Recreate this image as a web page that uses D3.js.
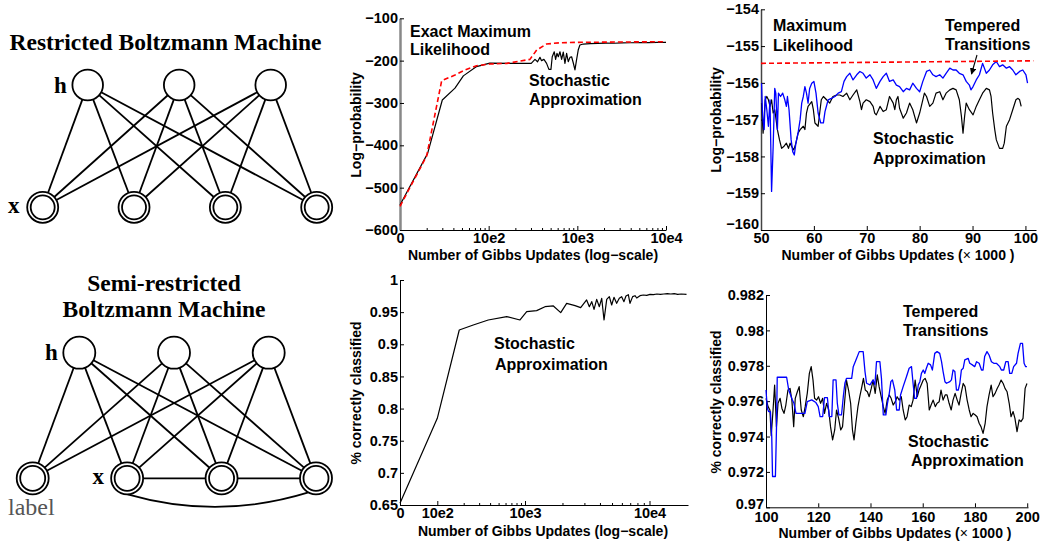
<!DOCTYPE html>
<html><head><meta charset="utf-8">
<script src="https://cdn.jsdelivr.net/npm/d3@7/dist/d3.min.js"></script>
<style>
html,body{margin:0;padding:0;background:#fff;}
svg{display:block;}
</style></head>
<body>
<svg id="fig" width="1041" height="543"></svg>
<script>
// ================= DATA =================
// --- Top-middle: log-probability vs Gibbs updates (log-scale) ---
const tmXTicks = [10, 100, 1000, 10000];
const tmXLabels = ["0", "10e2", "10e3", "10e4"];
const tmXMinor = [20,30,40,50,60,70,80,90,200,300,400,500,600,700,800,900,2000,3000,4000,5000,6000,7000,8000,9000];
const tmYTicks = [-600, -500, -400, -300, -200, -100];
const tmYLabels = ["\u2212600", "\u2212500", "\u2212400", "\u2212300", "\u2212200", "\u2212100"];
const tmMLx = [10, 20, 29.5, 41.7, 54, 73, 103, 160, 292, 348, 450, 637, 1000, 3000, 10000];
const tmMLy = [-544, -425, -247.5, -234, -222, -212, -208, -206.4, -197, -175, -160.8, -157.7, -156.8, -156, -155.3];
const tmSAx = [10, 20.5, 30, 41.7, 51.8, 73, 103, 200, 302, 333, 356, 379, 395, 420, 450, 478, 504, 521, 549, 569, 589, 610, 637, 665, 694, 725, 757, 790, 826, 862, 899, 940, 982, 1023, 1069, 1166, 1400, 1700, 2100, 2600, 3200, 4000, 5000, 6300, 8000, 10000];
const tmSAy = [-541, -419, -293, -265, -236, -214, -206, -206.5, -206.4, -197, -202.6, -192.3, -200, -197, -206.4, -220.6, -220.6, -190.8, -179, -197, -182.7, -190.8, -179, -197, -179.7, -206.4, -182.7, -202.6, -192.3, -190.8, -205, -222, -197, -175, -163, -160.8, -159.8, -159.2, -158.6, -158.9, -158.1, -157.8, -157.5, -157.6, -157, -156.8];

// --- Top-right: log-probability vs Gibbs updates (x1000) ---
const trXTicks = [50, 60, 70, 80, 90, 100];
const trXLabels = ["50", "60", "70", "80", "90", "100"];
const trYTicks = [-160, -159, -158, -157, -156, -155, -154];
const trYLabels = ["\u2212160", "\u2212159", "\u2212158", "\u2212157", "\u2212156", "\u2212155", "\u2212154"];
const trMLx = [50, 101.5];
const trMLy = [-155.47, -155.40];
const trTTx = [50.1,50.3,50.6,50.8,51.1,51.4,51.7,52.0,52.3,52.6,52.8,53.1,53.3,53.7,54.1,54.5,54.8,55.0,55.3,55.7,56.0,56.3,56.6,57.0,57.4,57.7,58.0,58.3,58.6,58.9,59.2,59.6,60.0,60.4,60.8,61.3,61.8,62.1,62.7,63.3,64.0,64.6,65.2,65.7,66.2,66.8,67.4,68.1,68.7,69.3,69.9,70.6,71.2,71.8,72.5,73.1,73.7,74.3,75.0,75.6,76.2,76.9,77.5,78.1,78.7,79.4,80.0,80.6,81.3,81.9,82.5,83.1,83.8,84.4,85.0,85.7,86.3,86.9,87.5,88.2,88.8,89.4,89.7,90.1,90.7,91.3,91.9,92.6,93.2,93.8,94.5,95.1,95.7,96.4,97.0,97.6,98.2,98.9,99.5,100.1,100.4];
const trTTy = [-156.01,-156.91,-157.27,-156.37,-156.73,-157.18,-156.46,-158.95,-157.73,-156.15,-156.28,-157.27,-156.28,-156.37,-156.28,-156.46,-156.64,-156.37,-156.73,-157.55,-157.87,-157.96,-157.64,-157.37,-157.00,-156.55,-156.37,-156.10,-156.28,-156.55,-156.15,-156.01,-155.96,-156.28,-156.82,-157.09,-157.09,-156.78,-156.46,-156.42,-156.37,-156.28,-156.24,-155.96,-155.83,-155.74,-155.92,-155.78,-155.69,-155.74,-155.87,-155.78,-155.92,-156.15,-155.96,-155.83,-155.74,-155.96,-155.92,-156.06,-156.10,-156.24,-156.15,-156.19,-156.01,-156.15,-156.24,-155.96,-155.69,-155.65,-155.78,-155.83,-155.78,-155.87,-155.74,-155.60,-155.65,-155.65,-155.74,-155.78,-155.96,-156.06,-156.19,-156.10,-155.92,-155.78,-155.47,-155.74,-155.65,-155.51,-155.42,-155.56,-155.51,-155.60,-155.56,-155.65,-155.78,-155.69,-155.65,-155.78,-156.01];
const trSAx = [50.1,50.4,50.8,51.1,51.4,51.7,52.0,52.3,52.6,53.1,53.5,53.9,54.3,54.8,55.2,55.5,55.8,56.2,56.6,57.0,57.4,58.0,58.3,58.6,58.9,59.6,59.9,60.2,60.8,61.1,61.4,61.8,62.4,63.0,63.6,64.3,64.9,65.5,66.2,66.8,67.4,68.1,68.7,69.0,69.3,69.9,70.6,71.2,71.5,71.8,72.5,73.1,73.7,74.3,75.0,75.3,75.6,75.9,76.2,76.9,77.5,78.1,78.7,79.4,80.0,80.6,80.9,81.3,81.9,82.5,83.1,83.8,84.4,85.0,85.7,86.3,86.9,87.5,87.9,88.2,88.5,88.8,89.4,90.1,90.7,91.3,91.9,92.6,93.2,93.5,93.8,94.2,94.5,95.1,95.7,96.0,96.4,97.0,97.6,98.2,98.6,98.9,99.2];
const trSAy = [-156.55,-157.37,-156.46,-156.37,-156.46,-156.64,-156.46,-156.82,-156.73,-157.27,-157.55,-157.78,-157.73,-157.64,-157.78,-157.64,-157.73,-157.82,-157.64,-157.37,-157.27,-157.18,-157.27,-156.82,-156.64,-156.51,-156.73,-157.09,-157.18,-156.82,-156.46,-156.37,-156.46,-156.55,-156.37,-156.33,-156.33,-156.37,-156.28,-156.46,-156.33,-156.19,-156.51,-156.73,-156.55,-156.46,-156.51,-156.64,-156.82,-156.87,-156.64,-156.78,-156.73,-156.37,-156.55,-156.73,-156.46,-156.37,-156.69,-156.96,-156.82,-156.55,-156.73,-157.09,-156.82,-156.46,-156.28,-156.37,-156.64,-156.55,-156.28,-156.24,-156.46,-156.28,-156.19,-156.15,-156.19,-156.46,-156.91,-157.37,-156.91,-156.55,-156.73,-156.87,-156.64,-156.46,-156.28,-156.15,-156.19,-156.37,-156.82,-157.27,-157.55,-157.78,-157.78,-157.64,-157.18,-157.00,-156.73,-156.46,-156.42,-156.46,-156.64];

// --- Bottom-middle: % correctly classified vs Gibbs updates (log-scale) ---
const bmXTicks = [10, 100, 1000, 10000];
const bmXLabels = ["0", "10e2", "10e3", "10e4"];
const bmXMinor = [200,300,400,500,600,700,800,900,2000,3000,4000,5000,6000,7000,8000,9000];
const bmYTicks = [0.65, 0.7, 0.75, 0.8, 0.85, 0.9, 0.95, 1];
const bmYLabels = ["0.65", "0.7", "0.75", "0.8", "0.85", "0.9", "0.95", "1"];
const bmSAx = [10,100,178,257,381,619,877,1032,1241,1447,1690,1936,2161,2524,2800,3126,3288,3436,3585,3765,3955,4131,4313,4533,4757,4969,5184,5448,5719,5976,6237,6471,6761,6971,7322,7647,7895,8390,8920,9500,10090,10710,11380,12080,12820,13630,14460,15350,16320,17320,19000];
const bmSAy = [0.6526,0.7848,0.9222,0.9300,0.9378,0.9430,0.9378,0.9507,0.9523,0.9585,0.9596,0.9492,0.9637,0.9601,0.9570,0.9689,0.9585,0.9663,0.9544,0.9699,0.9585,0.9715,0.9378,0.9699,0.9741,0.9611,0.9730,0.9637,0.9715,0.9741,0.9663,0.9751,0.9772,0.9637,0.9741,0.9756,0.9720,0.9756,0.9767,0.9761,0.9777,0.9772,0.9782,0.9777,0.9782,0.9787,0.9782,0.9787,0.9777,0.9782,0.9777];

// --- Bottom-right: % correctly classified vs Gibbs updates (x1000) ---
const brXTicks = [100, 120, 140, 160, 180, 200];
const brXLabels = ["100", "120", "140", "160", "180", "200"];
const brYTicks = [0.97, 0.972, 0.974, 0.976, 0.978, 0.98, 0.982];
const brYLabels = ["0.97", "0.972", "0.974", "0.976", "0.978", "0.98", "0.982"];
const brTTx = [100.0,100.5,101.0,101.7,102.2,102.5,103.6,104.0,104.3,107.9,108.7,109.4,110.1,110.7,111.5,114.9,115.8,117.5,119.1,120.0,120.7,121.7,122.4,123.5,124.2,125.2,125.7,126.8,127.3,127.9,128.9,129.6,130.2,130.8,132.8,133.4,134.7,135.7,137.2,137.9,138.5,139.8,141.0,141.7,142.3,143.6,144.2,144.9,145.9,146.5,147.2,147.8,148.4,149.3,150.0,151.0,151.5,152.5,153.8,154.8,155.7,156.3,156.9,157.6,158.3,158.9,159.5,160.2,160.8,161.4,162.1,163.0,163.7,164.6,165.5,166.5,167.2,167.8,168.5,169.1,170.4,171.0,171.6,172.3,172.9,173.6,174.2,174.8,175.5,176.1,177.4,178.0,179.0,179.9,180.6,181.6,182.5,183.1,183.7,184.6,185.4,186.3,187.2,188.2,189.5,190.1,191.0,191.8,192.7,193.3,194.1,194.8,195.9,196.5,197.4,198.2,198.8,199.4,199.9];
const brTTy = [0.97663,0.97560,0.97541,0.97541,0.97400,0.97174,0.97174,0.97437,0.97735,0.97735,0.97663,0.97635,0.97607,0.97588,0.97531,0.97531,0.97597,0.97607,0.97592,0.97569,0.97513,0.97513,0.97620,0.97620,0.97513,0.97513,0.97720,0.97720,0.97588,0.97522,0.97522,0.97626,0.97701,0.97729,0.97729,0.97795,0.97842,0.97880,0.97880,0.97767,0.97701,0.97692,0.97720,0.97692,0.97823,0.97823,0.97729,0.97522,0.97522,0.97588,0.97644,0.97710,0.97720,0.97663,0.97550,0.97550,0.97635,0.97682,0.97739,0.97786,0.97795,0.97701,0.97616,0.97616,0.97692,0.97710,0.97757,0.97776,0.97757,0.97786,0.97814,0.97805,0.97776,0.97870,0.97880,0.97870,0.97823,0.97767,0.97710,0.97701,0.97710,0.97720,0.97776,0.97767,0.97663,0.97663,0.97701,0.97776,0.97786,0.97833,0.97842,0.97814,0.97805,0.97795,0.97823,0.97814,0.97776,0.97776,0.97852,0.97880,0.97861,0.97823,0.97814,0.97814,0.97795,0.97776,0.97776,0.97823,0.97823,0.97757,0.97757,0.97795,0.97814,0.97870,0.97927,0.97927,0.97814,0.97795,0.97795];
const brSAx = [100.0,100.8,101.5,102.0,102.7,103.3,104.0,104.6,105.4,106.1,106.9,107.6,108.4,109.2,109.9,110.6,111.2,112.0,112.7,113.5,114.3,115.0,115.8,116.6,117.3,118.0,118.6,119.4,120.1,120.9,121.7,122.4,123.2,124.0,124.7,125.5,126.3,127.0,127.8,128.6,129.3,130.1,130.8,131.6,132.4,133.1,133.7,134.4,135.2,135.9,136.7,137.3,138.0,138.8,139.5,140.3,141.0,141.8,142.6,143.3,144.1,144.9,145.6,146.4,147.2,147.9,148.7,149.5,150.2,151.0,151.8,152.5,153.3,154.0,154.8,155.6,156.3,157.1,157.9,158.6,159.4,160.2,160.9,161.7,162.5,163.2,164.0,164.8,165.5,166.3,167.0,167.8,168.6,169.3,170.1,170.9,171.6,172.4,173.2,173.9,174.7,175.5,176.2,177.0,177.8,178.5,179.3,180.1,180.8,181.6,182.3,183.1,183.9,184.6,185.4,186.2,186.9,187.7,188.5,189.2,190.0,190.8,191.5,192.3,193.1,193.8,194.6,195.3,196.1,196.9,197.6,198.4,199.2,199.9];
const brSAy = [0.97616,0.97569,0.97550,0.97405,0.97550,0.97691,0.97456,0.97588,0.97616,0.97559,0.97531,0.97578,0.97663,0.97672,0.97606,0.97456,0.97616,0.97653,0.97682,0.97550,0.97512,0.97569,0.97644,0.97757,0.97795,0.97719,0.97616,0.97606,0.97625,0.97588,0.97616,0.97531,0.97588,0.97550,0.97456,0.97381,0.97437,0.97550,0.97503,0.97437,0.97456,0.97597,0.97719,0.97663,0.97588,0.97437,0.97381,0.97475,0.97569,0.97625,0.97682,0.97729,0.97663,0.97653,0.97625,0.97672,0.97719,0.97644,0.97748,0.97682,0.97625,0.97569,0.97531,0.97606,0.97635,0.97616,0.97578,0.97597,0.97625,0.97606,0.97625,0.97550,0.97494,0.97512,0.97578,0.97569,0.97606,0.97719,0.97625,0.97663,0.97691,0.97719,0.97729,0.97700,0.97550,0.97578,0.97606,0.97569,0.97588,0.97597,0.97663,0.97606,0.97635,0.97635,0.97588,0.97550,0.97606,0.97644,0.97606,0.97578,0.97644,0.97700,0.97682,0.97606,0.97550,0.97512,0.97531,0.97522,0.97512,0.97475,0.97456,0.97418,0.97475,0.97569,0.97635,0.97691,0.97625,0.97644,0.97672,0.97691,0.97719,0.97700,0.97672,0.97653,0.97588,0.97512,0.97541,0.97503,0.97428,0.97494,0.97484,0.97503,0.97672,0.97700];

// --- Network diagrams ---
const rbmHidden = ["h1", "h2", "h3"];
const rbmVisible = ["x1", "x2", "x3", "x4"];
const srbmHidden = ["h1", "h2", "h3"];
const srbmVisible = ["label", "x1", "x2", "x3"];
const srbmLateral = [["x1", "x2"], ["x2", "x3"]];
const srbmArc = [["x1", "x3"]];

// ================= DRAW =================
const svg = d3.select("#fig");
const SANS = '"Liberation Sans", Arial, Helvetica, sans-serif';
const SERIF = '"Liberation Serif", "Times New Roman", Times, serif';
const TICK_FS = 14.5;

function styleAxis(g, color, width) {
  g.attr("font-size", null).attr("font-family", null);
  g.select(".domain").attr("stroke", color || "#000").attr("stroke-width", width || 1);
  g.selectAll(".tick line").attr("stroke", "#000").attr("stroke-width", 1);
  g.selectAll(".tick text").attr("font-family", SANS).attr("font-weight", "bold")
    .attr("font-size", TICK_FS).attr("fill", "#000");
}

function drawPanel(p) {
  const g = svg.append("g");
  const x = p.x, y = p.y;
  const yb = y.range()[0], xl = x.range()[0];
  if (p.xMinor) {
    g.append("g").attr("transform", `translate(0,${yb})`)
      .call(d3.axisBottom(x).tickValues(p.xMinor).tickFormat("").tickSizeInner(-2).tickSizeOuter(0))
      .call(s => { s.select(".domain").remove(); s.selectAll(".tick line").attr("stroke", "#000"); });
  }
  const gx = g.append("g").attr("transform", `translate(0,${yb})`)
    .call(d3.axisBottom(x).tickValues(p.xTicks).tickFormat((d, i) => p.xLabels[i])
      .tickSizeInner(-4).tickSizeOuter(0).tickPadding(p.xPad));
  styleAxis(gx);
  const gy = g.append("g").attr("transform", `translate(${xl},0)`)
    .call(d3.axisLeft(y).tickValues(p.yTicks).tickFormat((d, i) => p.yLabels[i])
      .tickSizeInner(-4).tickSizeOuter(0).tickPadding(2));
  styleAxis(gy, p.yAxisColor, p.yAxisWidth);
  if (p.liftLowest) {
    gy.selectAll(".tick text").filter((d, i) => i === 0).attr("y", -p.liftLowest);
  }

  p.series.forEach(s => {
    const pts = d3.zip(s.x, s.y);
    g.append("path").datum(pts)
      .attr("fill", "none").attr("stroke", s.color).attr("stroke-width", s.width || 1.2)
      .attr("stroke-dasharray", s.dash || null).attr("stroke-linejoin", "round")
      .attr("d", d3.line().x(d => x(d[0])).y(d => y(d[1])));
  });

  const xt = g.append("text").attr("x", p.xTitle.x).attr("y", p.xTitle.y)
    .attr("text-anchor", "middle").attr("font-family", SANS).attr("font-weight", "bold")
    .attr("font-size", 14).attr("fill", "#000");
  p.xTitle.parts.forEach(pt => xt.append("tspan").attr("font-weight", pt.w || "bold").text(pt.t));
  g.append("text").attr("transform", `translate(${p.yTitle.x},${p.yTitle.y}) rotate(-90)`)
    .attr("text-anchor", "middle").attr("font-family", SANS).attr("font-weight", "bold")
    .attr("font-size", 14).attr("fill", "#000").text(p.yTitle.t);
  p.notes.forEach(n => {
    g.append("text").attr("x", n.x).attr("y", n.y).attr("font-family", SANS)
      .attr("font-weight", "bold").attr("font-size", 16).attr("fill", "#000").text(n.t);
  });
  return g;
}

// Top-middle
drawPanel({
  x: d3.scaleLog().domain([10, 10000]).range([400, 666]),
  y: d3.scaleLinear().domain([-600, -100]).range([230, 18.3]),
  xTicks: tmXTicks, xLabels: tmXLabels, xMinor: tmXMinor, xPad: 3,
  yTicks: tmYTicks, yLabels: tmYLabels, yAxisColor: "#888", yAxisWidth: 2.5,
  series: [
    { x: tmSAx, y: tmSAy, color: "#000", width: 1.2 },
    { x: tmMLx, y: tmMLy, color: "#ff0000", width: 1.6, dash: "5,3" }
  ],
  xTitle: { x: 533, y: 260, parts: [{ t: "Number of Gibbs Updates (log\u2212scale)" }] },
  yTitle: { x: 361, y: 125, t: "Log\u2212probability" },
  notes: [
    { t: "Exact Maximum", x: 410, y: 37 }, { t: "Likelihood", x: 410, y: 55 },
    { t: "Stochastic", x: 529, y: 86 }, { t: "Approximation", x: 529, y: 104.5 }
  ]
});

// Top-right
const trPanel = drawPanel({
  x: d3.scaleLinear().domain([50, 102]).range([761, 1036]),
  y: d3.scaleLinear().domain([-160, -154]).range([230, 9.3]),
  xTicks: trXTicks, xLabels: trXLabels, xPad: 3,
  yTicks: trYTicks, yLabels: trYLabels, yAxisColor: "#444", yAxisWidth: 1.5, liftLowest: 6,
  series: [
    { x: trSAx, y: trSAy, color: "#000", width: 1.2 },
    { x: trTTx, y: trTTy, color: "#0000ff", width: 1.3 },
    { x: trMLx, y: trMLy, color: "#ff0000", width: 1.6, dash: "5,3" }
  ],
  xTitle: { x: 898, y: 260, parts: [{ t: "Number of Gibbs Updates (" }, { t: "\u00d7", w: "normal" }, { t: " 1000 )" }] },
  yTitle: { x: 721, y: 120, t: "Log\u2212probability" },
  notes: [
    { t: "Maximum", x: 773, y: 30.5 }, { t: "Likelihood", x: 773, y: 50.5 },
    { t: "Tempered", x: 945, y: 30.5 }, { t: "Transitions", x: 945, y: 50 },
    { t: "Stochastic", x: 873, y: 144 }, { t: "Approximation", x: 873, y: 164 }
  ]
});
svg.append("defs").append("marker").attr("id", "ah").attr("viewBox", "0 0 10 10")
  .attr("refX", 9).attr("refY", 5).attr("markerWidth", 6).attr("markerHeight", 6).attr("orient", "auto")
  .append("path").attr("d", "M0,0 L10,5 L0,10 z").attr("fill", "#000");
trPanel.append("line").attr("x1", 977).attr("y1", 55).attr("x2", 971.5).attr("y2", 74)
  .attr("stroke", "#000").attr("stroke-width", 1.1).attr("marker-end", "url(#ah)");

// Bottom-middle
drawPanel({
  x: d3.scaleLog().domain([10, 100, 1000, 10000, 19500]).range([400, 437.3, 525, 649.5, 688]),
  y: d3.scaleLinear().domain([0.65, 1]).range([505, 280]),
  xTicks: bmXTicks, xLabels: bmXLabels, xMinor: bmXMinor, xPad: 3,
  yTicks: bmYTicks, yLabels: bmYLabels,
  series: [{ x: bmSAx, y: bmSAy, color: "#000", width: 1.2 }],
  xTitle: { x: 543, y: 535.5, parts: [{ t: "Number of Gibbs Updates (log\u2212scale)" }] },
  yTitle: { x: 361, y: 393, t: "% correctly classified" },
  notes: [{ t: "Stochastic", x: 494, y: 349 }, { t: "Approximation", x: 495, y: 370 }]
});

// Bottom-right
drawPanel({
  x: d3.scaleLinear().domain([100, 200.3]).range([766, 1028]),
  y: d3.scaleLinear().domain([0.97, 0.982]).range([507.3, 295]),
  xTicks: brXTicks, xLabels: brXLabels, xPad: 4, liftLowest: 3,
  yTicks: brYTicks, yLabels: brYLabels,
  series: [
    { x: brSAx, y: brSAy, color: "#000", width: 1.2 },
    { x: brTTx, y: brTTy, color: "#0000ff", width: 1.3 }
  ],
  xTitle: { x: 895, y: 538, parts: [{ t: "Number of Gibbs Updates  (" }, { t: "\u00d7", w: "normal" }, { t: " 1000 )" }] },
  yTitle: { x: 721, y: 402, t: "% correctly classified" },
  notes: [
    { t: "Tempered", x: 903, y: 317 }, { t: "Transitions", x: 903, y: 335.5 },
    { t: "Stochastic", x: 908, y: 447 }, { t: "Approximation", x: 911, y: 466 }
  ]
});

// ---- Network diagrams ----
function network(o) {
  const g = svg.append("g");
  const hx = d3.scalePoint().domain(o.hidden).range(o.hRange);
  const vx = d3.scalePoint().domain(o.visible).range(o.vRange);
  const rH = o.rH, rV = o.rV, SW = 1.8;
  const H = o.hidden.map(id => ({ id, x: hx(id), y: o.hY }));
  const V = o.visible.map(id => ({ id, x: vx(id), y: o.vY }));
  const edges = [];
  H.forEach(h => V.forEach(v => edges.push([h, v])));
  g.selectAll("line.e").data(edges).join("line").attr("class", "e")
    .each(function (d) {
      const [h, v] = d, dx = v.x - h.x, dy = v.y - h.y, L = Math.hypot(dx, dy);
      d3.select(this).attr("x1", h.x + dx / L * rH).attr("y1", h.y + dy / L * rH)
        .attr("x2", v.x - dx / L * rV).attr("y2", v.y - dy / L * rV);
    })
    .attr("stroke", "#000").attr("stroke-width", SW);
  if (o.lateral) {
    const byId = Object.fromEntries(V.map(v => [v.id, v]));
    g.selectAll("line.l").data(o.lateral).join("line").attr("class", "l")
      .attr("x1", d => byId[d[0]].x + rV).attr("y1", d => byId[d[0]].y)
      .attr("x2", d => byId[d[1]].x - rV).attr("y2", d => byId[d[1]].y)
      .attr("stroke", "#000").attr("stroke-width", SW);
    g.selectAll("path.arc").data(o.arc).join("path").attr("class", "arc")
      .attr("d", d => {
        const a = byId[d[0]], b = byId[d[1]];
        const a1 = 88 * Math.PI / 180, a2 = 118 * Math.PI / 180;
        const sx = a.x + rV * Math.cos(a1), sy = a.y + rV * Math.sin(a1);
        const ex = b.x + rV * Math.cos(a2), ey = b.y + rV * Math.sin(a2);
        const p = d3.path(); p.moveTo(sx, sy);
        p.quadraticCurveTo((sx + ex) / 2, sy + 2 * o.arcDepth, ex, ey);
        return p.toString();
      })
      .attr("fill", "none").attr("stroke", "#000").attr("stroke-width", SW);
  }
  g.selectAll("circle.h").data(H).join("circle").attr("class", "h")
    .attr("cx", d => d.x).attr("cy", d => d.y).attr("r", rH)
    .attr("fill", "#fff").attr("stroke", "#000").attr("stroke-width", SW);
  g.selectAll("circle.vo").data(V).join("circle").attr("class", "vo")
    .attr("cx", d => d.x).attr("cy", d => d.y).attr("r", rV)
    .attr("fill", "#fff").attr("stroke", "#000").attr("stroke-width", SW);
  g.selectAll("circle.vi").data(V).join("circle").attr("class", "vi")
    .attr("cx", d => d.x).attr("cy", d => d.y).attr("r", rV - 3.5)
    .attr("fill", "none").attr("stroke", "#000").attr("stroke-width", SW);
  o.texts.forEach(t => {
    g.append("text").attr("x", t.x).attr("y", t.y).attr("text-anchor", t.anchor || "start")
      .attr("font-family", SERIF).attr("font-weight", t.w || "bold").attr("font-size", t.s)
      .attr("fill", t.c || "#000").text(t.t);
  });
}

network({
  hidden: rbmHidden, visible: rbmVisible,
  hRange: [87.7, 270.7], vRange: [42.7, 316.7], hY: 85, vY: 207.3, rH: 15.3, rV: 15.5,
  texts: [
    { t: "Restricted Boltzmann Machine", x: 165.5, y: 50, anchor: "middle", s: 23.5 },
    { t: "h", x: 54, y: 93, s: 23 },
    { t: "x", x: 8, y: 212.5, s: 23 }
  ]
});
network({
  hidden: srbmHidden, visible: srbmVisible,
  hRange: [79.3, 268.7], vRange: [32.7, 316], hY: 352.7, vY: 478.3, rH: 16, rV: 16,
  lateral: srbmLateral, arc: srbmArc, arcDepth: 13,
  texts: [
    { t: "Semi-restricted", x: 164, y: 290.5, anchor: "middle", s: 23.5 },
    { t: "Boltzmann Machine", x: 164, y: 317, anchor: "middle", s: 23.5 },
    { t: "h", x: 45, y: 360, s: 23 },
    { t: "x", x: 92.5, y: 484, s: 23 },
    { t: "label", x: 8, y: 515, s: 24, w: "normal", c: "#555" }
  ]
});
</script>
</body></html>
